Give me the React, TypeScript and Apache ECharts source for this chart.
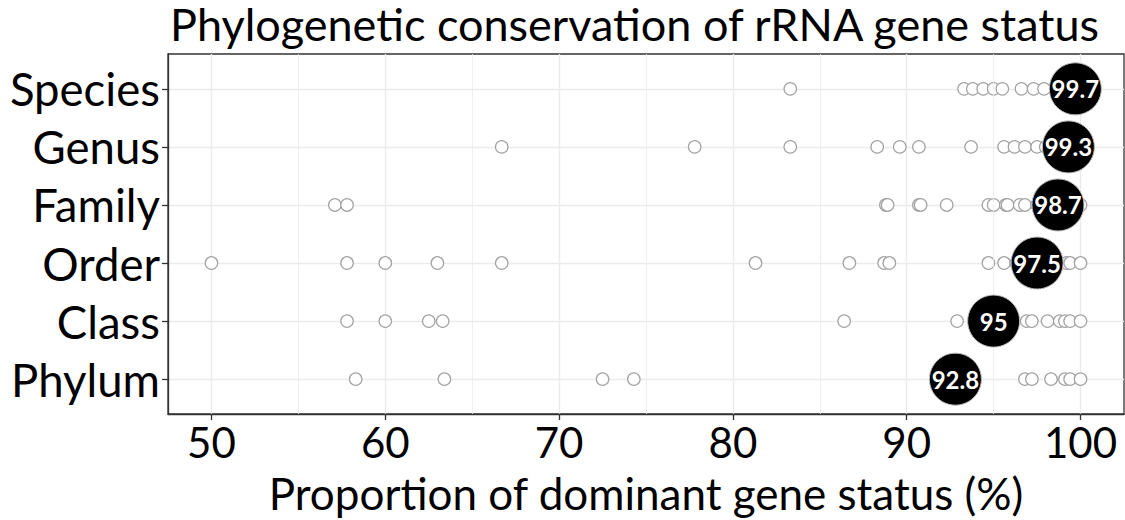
import React, { useEffect, useRef } from "react";
import * as echarts from "echarts";

const categories = ["Phylum", "Class", "Order", "Family", "Genus", "Species"];
const xTicks = [50, 60, 70, 80, 90, 100];
const xMinorTicks = [55, 65, 75, 85, 95];

const phylumValues = [58.3, 63.4, 72.5, 74.3, 96.8, 97.2, 98.3, 99.1, 99.4, 100];
const classValues = [57.8, 60.0, 62.5, 63.3, 86.4, 92.9, 96.9, 97.2, 98.1, 98.8, 99.1, 99.4, 100];
const orderValues = [50, 57.8, 60, 63.0, 66.7, 81.3, 86.7, 88.7, 89.0, 94.7, 95.6, 96.3, 99.2, 99.4, 100];
const familyValues = [57.1, 57.8, 88.8, 88.9, 90.7, 90.8, 92.3, 94.7, 95.0, 95.7, 95.8, 96.5, 96.8, 97.5, 100];
const genusValues = [66.7, 77.8, 83.3, 88.3, 89.6, 90.7, 93.7, 95.6, 96.2, 96.8, 97.5, 98.0, 100];
const speciesValues = [83.3, 93.3, 93.8, 94.4, 95.0, 95.5, 96.6, 97.3, 97.9, 98.6, 99.2, 100];
const medianValues = [92.8, 95, 97.5, 98.7, 99.3, 99.7];

const FONT = "Lato";

export default function App() {
  const ref = useRef<HTMLDivElement>(null);
  useEffect(() => {
    if (!ref.current) return;
    const chart = echarts.init(ref.current, null, { renderer: "svg" });
    const rows = [phylumValues, classValues, orderValues, familyValues, genusValues, speciesValues];
    const pointData: number[][] = [];
    rows.forEach((vals, i) => vals.forEach((v) => pointData.push([v, i + 1])));
    const medianData = medianValues.map((v, i) => [v, i + 1]);
    const yTicks = categories.map((_, i) => i + 1);

    chart.setOption({
      animation: false,
      backgroundColor: "#ffffff",
      textStyle: { fontFamily: FONT },
      title: {
        text: "Phylogenetic conservation of rRNA gene status",
        left: 170,
        top: 2,
        padding: 0,
        textStyle: { fontFamily: FONT, fontSize: 45, lineHeight: 44, fontWeight: "normal", color: "#000" },
      },
      grid: {
        left: 168,
        right: 1,
        top: 54,
        bottom: 94,
        show: true,
        borderColor: "#333333",
        borderWidth: 1.3,
        backgroundColor: "#ffffff",
      },
      xAxis: {
        type: "value",
        min: 47.5,
        max: 102.5,
        name: "Proportion of dominant gene status (%)",
        nameLocation: "middle",
        nameGap: 57,
        nameTextStyle: { fontFamily: FONT, fontSize: 44, color: "#000" },
        axisLine: { show: true, lineStyle: { color: "#333333", width: 1.3 } },
        axisTick: { show: true, length: 6, customValues: xTicks, lineStyle: { color: "#333333", width: 1.3 } },
        axisLabel: {
          customValues: xTicks,
          fontFamily: FONT,
          fontSize: 42,
          color: "#000",
          margin: 7,
        },
        splitLine: { show: true, lineStyle: { color: "#ebebeb", width: 1.4 } },
      },
      yAxis: {
        type: "value",
        min: 0.4,
        max: 6.6,
        axisLine: { show: true, lineStyle: { color: "#333333", width: 1.3 } },
        axisTick: { show: true, length: 6, customValues: yTicks, lineStyle: { color: "#333333", width: 1.3 } },
        axisLabel: {
          customValues: yTicks,
          formatter: (v: number) => categories[Math.round(v) - 1] ?? "",
          fontFamily: FONT,
          fontSize: 45.5,
          color: "#000",
          margin: 8,
        },
        splitLine: { show: true, lineStyle: { color: "#ebebeb", width: 1.4 } },
      },
      series: [
        {
          type: "scatter",
          data: [],
          z: 1,
          silent: true,
          markLine: {
            silent: true,
            symbol: "none",
            label: { show: false },
            lineStyle: { color: "#ebebeb", width: 0.8, type: "solid" },
            data: xMinorTicks.map((v) => ({ xAxis: v })),
          },
        },
        {
          type: "scatter",
          data: pointData,
          z: 3,
          symbol: "circle",
          symbolSize: 12.5,
          itemStyle: { color: "#ffffff", borderColor: "#a3a3a3", borderWidth: 1.2, opacity: 1 },
        },
        {
          type: "scatter",
          data: medianData,
          z: 5,
          symbol: "circle",
          symbolSize: 52,
          itemStyle: { color: "#000000", borderColor: "#bbbbbb", borderWidth: 1, opacity: 1 },
          label: {
            show: true,
            position: "inside",
            formatter: (p: any) => String(p.value[0]),
            color: "#ffffff",
            fontFamily: FONT,
            fontWeight: "bold",
            fontSize: 24,
          },
        },
      ],
    });
    return () => chart.dispose();
  }, []);
  return (
    <div
      ref={ref}
      style={{ position: "absolute", left: 0, top: 0, width: 1125, height: 520 }}
    />
  );
}
